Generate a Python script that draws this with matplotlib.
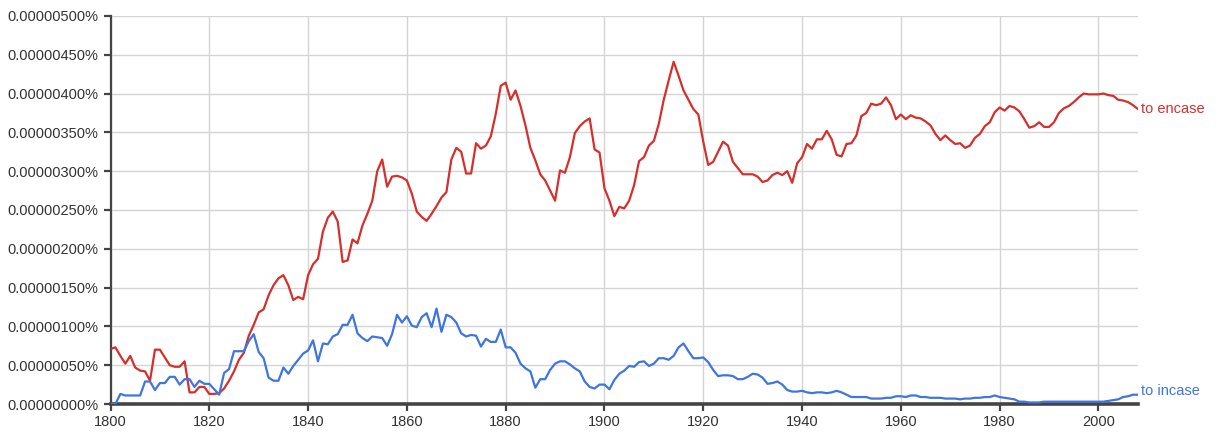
import matplotlib
matplotlib.use("Agg")
import matplotlib.pyplot as plt
import numpy as np
from matplotlib.ticker import FuncFormatter

plt.rcParams['font.family'] = ['Liberation Sans', 'DejaVu Sans']

# values in units of 0.000001 %
years = np.arange(1800, 2009)

encase = [
    0.71, 0.73, 0.62, 0.52, 0.62, 0.47, 0.43, 0.42, 0.30, 0.70,   # 1800-1809
    0.70, 0.60, 0.50, 0.48, 0.48, 0.55, 0.15, 0.15, 0.22, 0.22,   # 1810-1819
    0.13, 0.13, 0.14, 0.20, 0.30, 0.42, 0.57, 0.66, 0.88, 1.02,   # 1820-1829
    1.18, 1.22, 1.40, 1.53, 1.62, 1.66, 1.53, 1.34, 1.38, 1.35,   # 1830-1839
    1.66, 1.80, 1.87, 2.22, 2.40, 2.48, 2.35, 1.83, 1.85, 2.12,   # 1840-1849
    2.07, 2.30, 2.45, 2.62, 3.00, 3.15, 2.80, 2.93, 2.94, 2.92,   # 1850-1859
    2.88, 2.71, 2.48, 2.41, 2.36, 2.45, 2.55, 2.66, 2.73, 3.15,   # 1860-1869
    3.30, 3.25, 2.97, 2.97, 3.36, 3.29, 3.33, 3.45, 3.74, 4.10,   # 1870-1879
    4.14, 3.92, 4.04, 3.84, 3.59, 3.30, 3.14, 2.96, 2.88, 2.75,   # 1880-1889
    2.62, 3.01, 2.98, 3.18, 3.49, 3.58, 3.64, 3.68, 3.28, 3.24,   # 1890-1899
    2.78, 2.62, 2.42, 2.54, 2.52, 2.62, 2.82, 3.13, 3.18, 3.33,   # 1900-1909
    3.39, 3.61, 3.92, 4.17, 4.41, 4.23, 4.04, 3.92, 3.80, 3.73,   # 1910-1919
    3.38, 3.08, 3.12, 3.25, 3.38, 3.33, 3.12, 3.04, 2.96, 2.96,   # 1920-1929
    2.96, 2.93, 2.86, 2.88, 2.95, 2.98, 2.95, 3.00, 2.85, 3.10,   # 1930-1939
    3.18, 3.35, 3.29, 3.41, 3.41, 3.52, 3.41, 3.21, 3.19, 3.35,   # 1940-1949
    3.36, 3.46, 3.71, 3.75, 3.87, 3.85, 3.87, 3.95, 3.85, 3.67,   # 1950-1959
    3.73, 3.67, 3.72, 3.69, 3.68, 3.64, 3.59, 3.48, 3.40, 3.46,   # 1960-1969
    3.40, 3.35, 3.36, 3.30, 3.33, 3.43, 3.48, 3.58, 3.63, 3.76,   # 1970-1979
    3.82, 3.78, 3.84, 3.82, 3.77, 3.67, 3.56, 3.58, 3.63, 3.57,   # 1980-1989
    3.57, 3.63, 3.75, 3.81, 3.84, 3.89, 3.95, 4.00, 3.99, 3.99,   # 1990-1999
    3.99, 4.00, 3.98, 3.97, 3.92, 3.91, 3.89, 3.85, 3.80,         # 2000-2008
]

incase = [
    0.00, 0.00, 0.13, 0.11, 0.11, 0.11, 0.11, 0.29, 0.29, 0.18,   # 1800-1809
    0.27, 0.27, 0.35, 0.35, 0.25, 0.32, 0.32, 0.22, 0.30, 0.26,   # 1810-1819
    0.26, 0.19, 0.12, 0.40, 0.45, 0.68, 0.68, 0.68, 0.81, 0.90,   # 1820-1829
    0.67, 0.59, 0.34, 0.30, 0.30, 0.47, 0.39, 0.49, 0.57, 0.65,   # 1830-1839
    0.69, 0.82, 0.55, 0.78, 0.77, 0.87, 0.90, 1.02, 1.02, 1.15,   # 1840-1849
    0.91, 0.85, 0.81, 0.87, 0.86, 0.85, 0.75, 0.90, 1.15, 1.05,   # 1850-1859
    1.13, 1.01, 0.99, 1.12, 1.17, 0.99, 1.23, 0.93, 1.15, 1.12,   # 1860-1869
    1.05, 0.91, 0.87, 0.89, 0.88, 0.74, 0.84, 0.80, 0.80, 0.96,   # 1870-1879
    0.73, 0.73, 0.66, 0.52, 0.46, 0.42, 0.21, 0.32, 0.32, 0.44,   # 1880-1889
    0.52, 0.55, 0.55, 0.51, 0.46, 0.42, 0.29, 0.22, 0.20, 0.25,   # 1890-1899
    0.25, 0.19, 0.31, 0.39, 0.43, 0.49, 0.48, 0.54, 0.55, 0.49,   # 1900-1909
    0.52, 0.59, 0.59, 0.57, 0.62, 0.73, 0.78, 0.68, 0.59, 0.59,   # 1910-1919
    0.60, 0.54, 0.44, 0.36, 0.37, 0.37, 0.36, 0.32, 0.32, 0.35,   # 1920-1929
    0.39, 0.38, 0.34, 0.26, 0.27, 0.29, 0.25, 0.18, 0.16, 0.16,   # 1930-1939
    0.17, 0.15, 0.14, 0.15, 0.15, 0.14, 0.15, 0.17, 0.15, 0.12,   # 1940-1949
    0.09, 0.09, 0.09, 0.09, 0.07, 0.07, 0.07, 0.08, 0.08, 0.10,   # 1950-1959
    0.10, 0.09, 0.11, 0.11, 0.09, 0.09, 0.08, 0.08, 0.08, 0.07,   # 1960-1969
    0.07, 0.07, 0.06, 0.07, 0.07, 0.08, 0.08, 0.09, 0.09, 0.11,   # 1970-1979
    0.09, 0.08, 0.07, 0.06, 0.03, 0.03, 0.02, 0.02, 0.02, 0.03,   # 1980-1989
    0.03, 0.03, 0.03, 0.03, 0.03, 0.03, 0.03, 0.03, 0.03, 0.03,   # 1990-1999
    0.03, 0.03, 0.04, 0.05, 0.06, 0.09, 0.10, 0.12, 0.12,         # 2000-2008
]

red = '#d62f2b'
blue = '#3f75e0'

fig = plt.figure(figsize=(12.21, 4.38), dpi=100)
ax = fig.add_axes([0.0905, 0.0776, 0.8415, 0.886])

ax.plot(years, encase, color=red, lw=1.6, zorder=3)
ax.plot(years, incase, color=blue, lw=1.6, zorder=3)

ax.set_xlim(1800, 2008)
ax.set_ylim(0, 5.0)
ax.set_xticks(np.arange(1800, 2001, 20))
ax.set_yticks(np.arange(0, 5.01, 0.5))
ax.yaxis.set_major_formatter(FuncFormatter(lambda v, p: f"{v * 1e-6:.8f}%"))

ax.grid(True, color='#d4d4d4', lw=1.0, zorder=0)
for s in ['top', 'right']:
    ax.spines[s].set_visible(False)
ax.spines['left'].set_color('#444444')
ax.spines['left'].set_linewidth(1.6)
ax.spines['bottom'].set_color('#444444')
ax.spines['bottom'].set_linewidth(2.6)
ax.tick_params(axis='both', colors='#444444', labelcolor='#333333',
               labelsize=10.5, length=5, width=1.6, direction='out')
ax.tick_params(axis='x', pad=3)

# series names at the right end of each line
ax.text(1.003, encase[-1] / 5.0, 'to encase', transform=ax.transAxes,
        color=red, fontsize=10.5, va='center', ha='left')
ax.text(1.003, incase[-1] / 5.0 + 0.01, 'to incase', transform=ax.transAxes,
        color=blue, fontsize=10.5, va='center', ha='left')

fig.savefig('out.png', dpi=100)
